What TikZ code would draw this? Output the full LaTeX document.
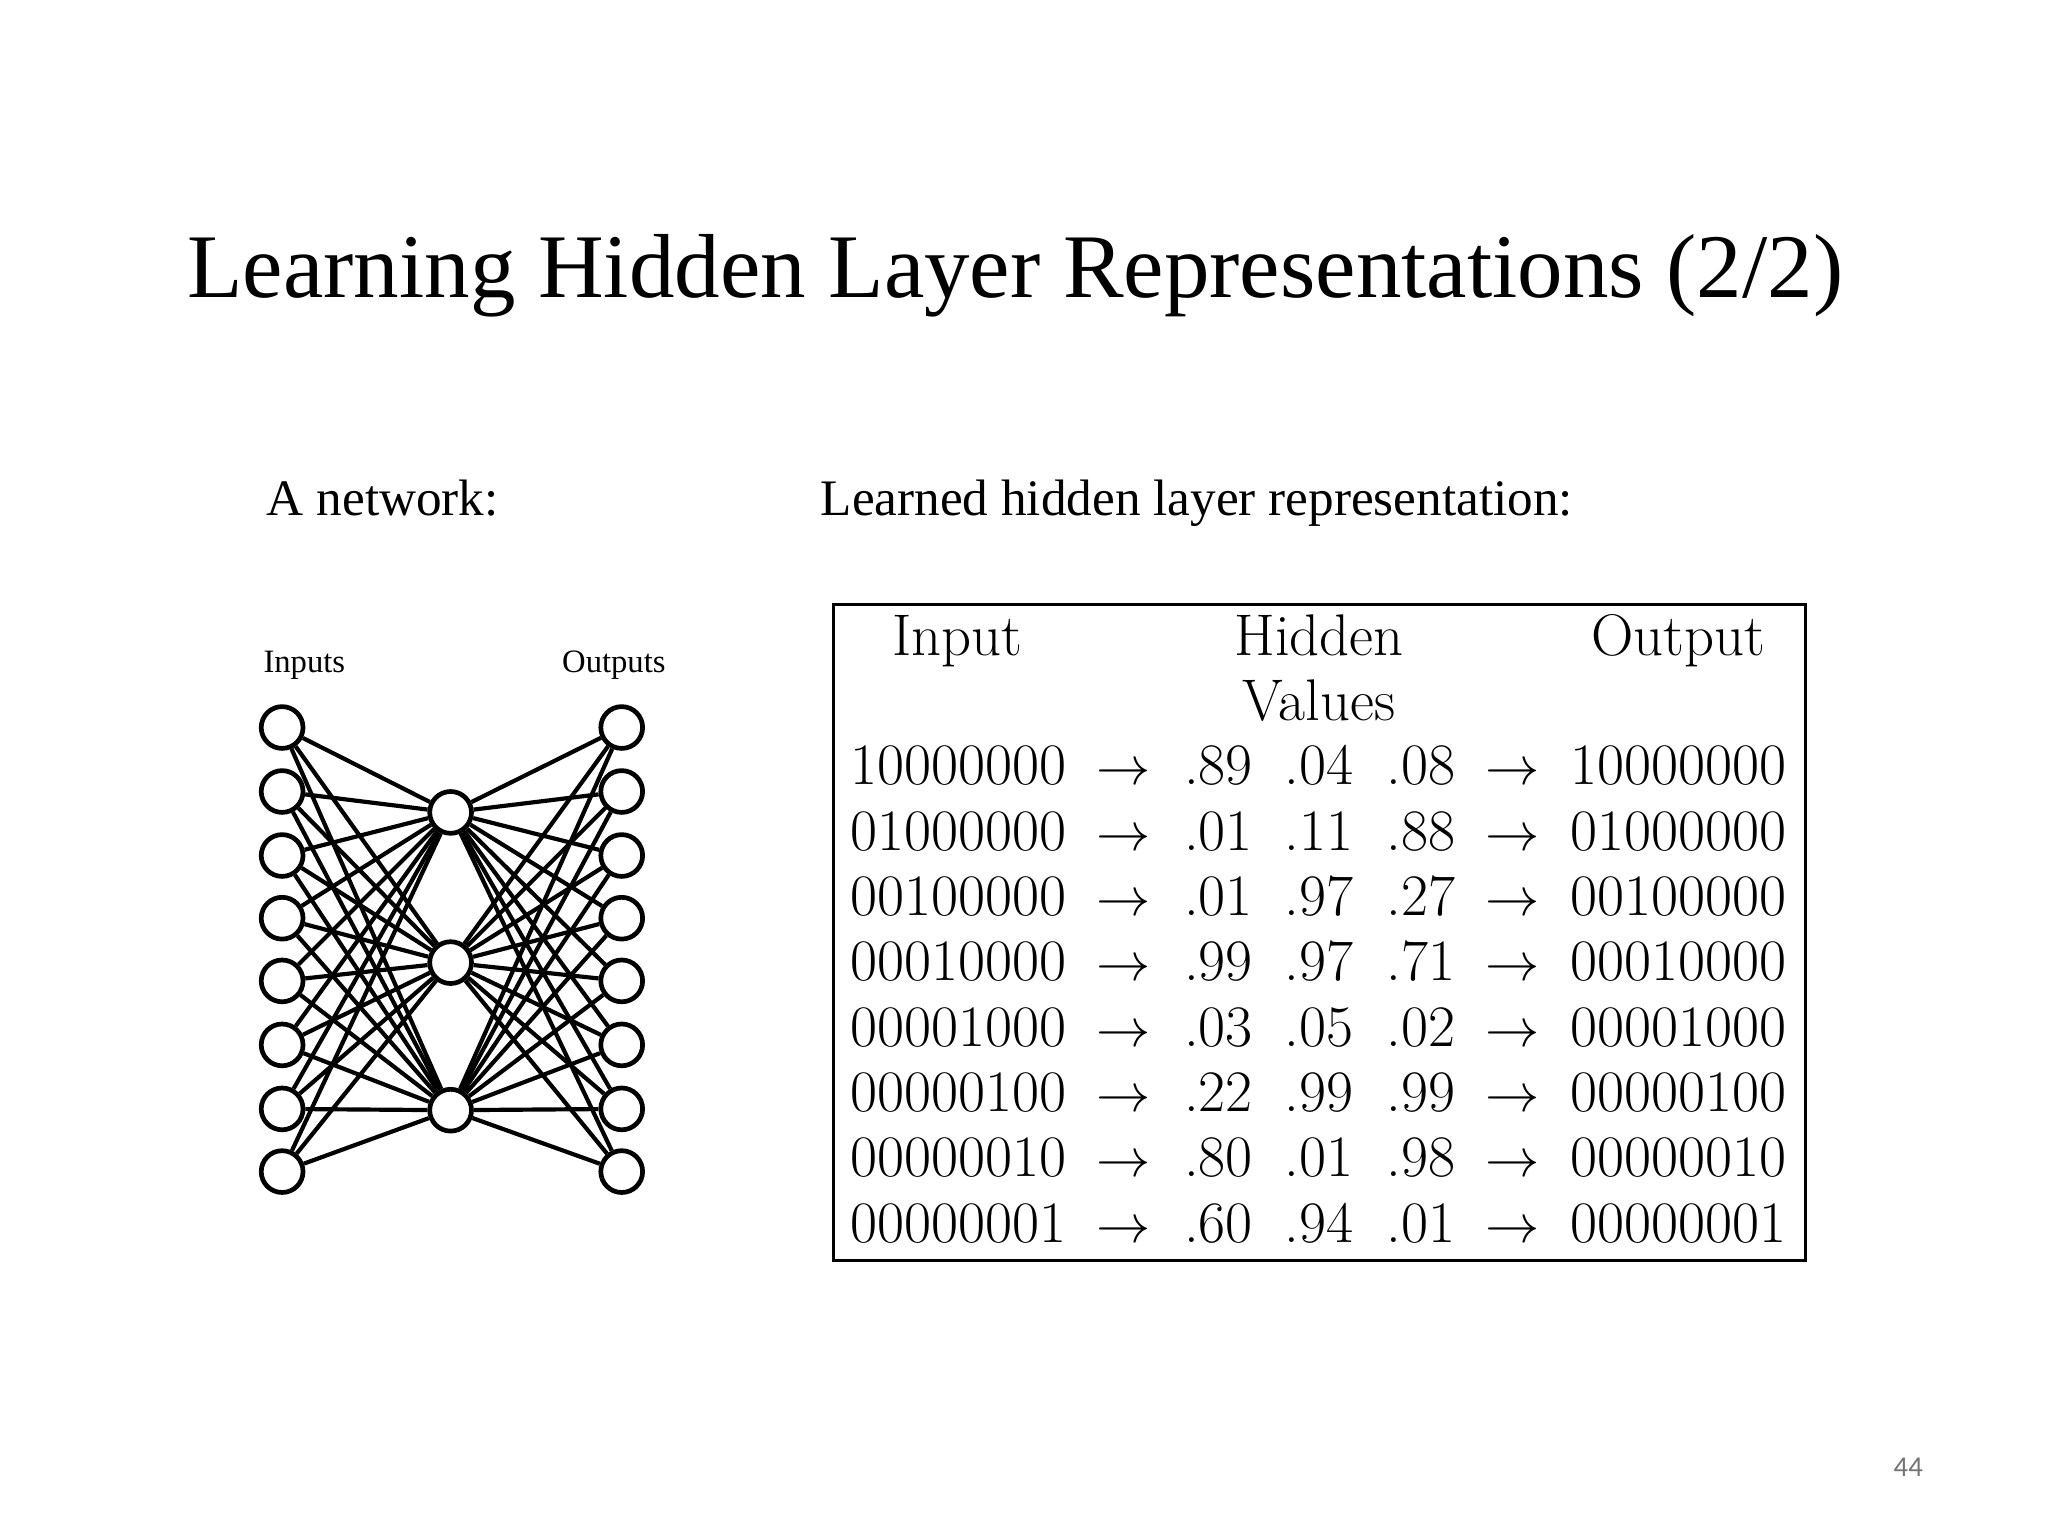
\documentclass[tikz,border=0pt]{standalone}
\usepackage{fontspec}
\newfontfamily\tms{Liberation Serif}
\newfontfamily\pgnfont{Carlito}
\begin{document}
\begin{tikzpicture}[x=0.5pt,y=-0.5pt,
  neuron/.style={circle,draw,line width=1.8pt,minimum size=16pt,inner sep=0pt},
  edge/.style={line width=1.6pt},
  cell/.style={inner sep=0pt,anchor=base,font=\fontsize{22.5}{26}\selectfont}]
\useasboundingbox (0,0) rectangle (1568,1176);
\node[anchor=base west,inner sep=0pt,font=\tms\fontsize{34.8}{40}\selectfont] (title) at (143,228) {Learning Hidden Layer Representations (2/2)};
\node[anchor=base west,inner sep=0pt,font=\tms\fontsize{19.6}{24}\selectfont] (an) at (204,395) {A network:};
\node[anchor=base west,inner sep=0pt,font=\tms\fontsize{19.6}{24}\selectfont] (lh) at (628,395) {Learned hidden layer representation:};
\node[font=\tms\fontsize{12.5}{14}\selectfont] (inl) at (233,509) {Inputs};
\node[font=\tms\fontsize{12.5}{14}\selectfont] (outl) at (470,509) {Outputs};
\foreach \i/\y in {1/557,2/606,3/655,4/703,5/751,6/800,7/849,8/897}{
  \node[neuron] (i\i) at (216,\y) {};
  \node[neuron] (o\i) at (476,\y) {};}
\foreach \j/\y in {1/622,2/737,3/850}
  \node[neuron] (h\j) at (345,\y) {};
\foreach \i in {1,...,8}\foreach \j in {1,2,3}{
  \draw[edge] (i\i) -- (h\j); \draw[edge] (h\j) -- (o\i);}
\node[draw,line width=1.2pt,minimum width=372pt,minimum height=251pt,inner sep=0pt] (tab) at (1010,714) {};
\node[cell] (hin) at (733,502) {Input};
\node[cell] (hhid) at (1010,502) {Hidden};
\node[cell] (hval) at (1010,552) {Values};
\node[cell] (hout) at (1285,502) {Output};
\foreach \r/\a/\b/\c/\d in {0/10000000/.89/.04/.08,1/01000000/.01/.11/.88,2/00100000/.01/.97/.27,3/00010000/.99/.97/.71,4/00001000/.03/.05/.02,5/00000100/.22/.99/.99,6/00000010/.80/.01/.98,7/00000001/.60/.94/.01}{
  \pgfmathsetmacro\yy{601+50*\r}
  \node[cell] (in\r) at (734,\yy) {\a};
  \node[cell] (ar\r) at (860,\yy) {$\rightarrow$};
  \node[cell] (va\r) at (933,\yy) {\b};
  \node[cell] (vb\r) at (1010,\yy) {\c};
  \node[cell] (vc\r) at (1088,\yy) {\d};
  \node[cell] (br\r) at (1158,\yy) {$\rightarrow$};
  \node[cell] (ou\r) at (1285,\yy) {\a};}
\node[font=\pgnfont\fontsize{11}{12}\selectfont,text=black!55] (pg) at (1461,1123) {44};
\end{tikzpicture}
\end{document}
